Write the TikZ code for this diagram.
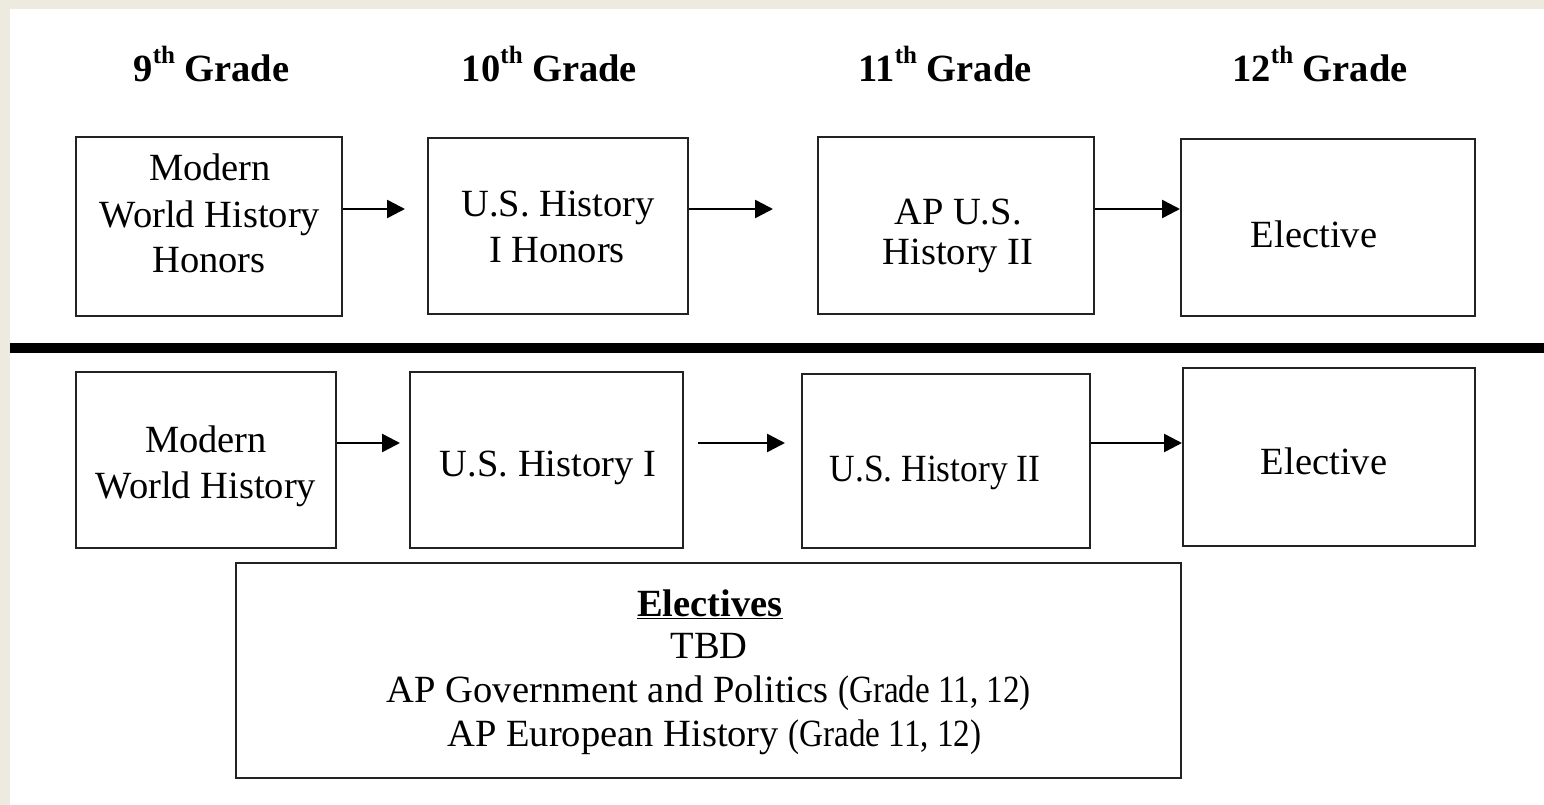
\documentclass[tikz,border=0pt]{standalone}
\usepackage{fontspec}
\setmainfont{Liberation Serif}
\usetikzlibrary{arrows.meta}
\definecolor{pagebeige}{HTML}{EDEAE0}
\definecolor{boxline}{HTML}{222222}
\tikzset{
  course/.style={draw=boxline, line width=2pt, inner sep=0pt},
  txt/.style={inner sep=0pt, anchor=base, font=\fontsize{38.5}{46}\selectfont},
  head/.style={inner sep=0pt, anchor=base, font=\fontsize{38.5}{46}\selectfont\bfseries},
  flow/.style={line width=2.5pt, -{Triangle[length=18pt,width=18pt]}}
}
\newcommand{\narrowtxt}[2]{\scalebox{#1}[1]{#2}}
\newcommand{\ordsup}[1]{\raisebox{18pt}{\fontsize{25}{25}\selectfont #1}}
\begin{document}
\begin{tikzpicture}[x=1pt,y=-1pt]
\useasboundingbox (0,0) rectangle (1544,805);
\fill[pagebeige] (0,0) rectangle (1544,805);
\fill[white] (10,9) rectangle (1544,805);

% headings
\node[head] (h9)  at (211.5,82) {9\ordsup{th} Grade};
\node[head] (h10) at (549.5,82) {10\ordsup{th} Grade};
\node[head] (h11) at (945,82)   {11\ordsup{th} Grade};
\node[head] (h12) at (1320,82)  {12\ordsup{th} Grade};

% upper row boxes
\node[course, minimum width=266pt, minimum height=179pt] (b1) at (209,226.5) {};
\node[course, minimum width=260pt, minimum height=176pt] (b2) at (558,226) {};
\node[course, minimum width=276pt, minimum height=177pt] (b3) at (956,225.5) {};
\node[course, minimum width=294pt, minimum height=177pt] (b4) at (1328,227.5) {};

\node[txt] (t1a) at (210,181) {Modern};
\node[txt] (t1b) at (210,227) {World History};
\node[txt] (t1c) at (209,272) {Honors};
\node[txt] (t2a) at (558,217) {U.S. History};
\node[txt] (t2b) at (557,262) {I Honors};
\node[txt] (t3a) at (958,225) {AP U.S.};
\node[txt] (t3b) at (958,264) {History II};
\node[txt] (t4a) at (1314,247) {Elective};

% separator
\draw[line width=10pt] (10,348) -- (1544,348);

% lower row boxes
\node[course, minimum width=260pt, minimum height=176pt] (b5) at (206,460) {};
\node[course, minimum width=273pt, minimum height=176pt] (b6) at (546.5,460) {};
\node[course, minimum width=288pt, minimum height=174pt] (b7) at (946,461) {};
\node[course, minimum width=292pt, minimum height=178pt] (b8) at (1329,457) {};

\node[txt] (t5a) at (206,452) {Modern};
\node[txt] (t5b) at (206,498) {World History};
\node[txt] (t6a) at (548,476) {U.S. History I};
\node[txt] (t7a) at (935,481) {\narrowtxt{0.92}{U.S. History II}};
\node[txt] (t8a) at (1324,474) {Elective};

% electives box
\node[course, minimum width=945pt, minimum height=215pt] (bE) at (708.5,670.5) {};
\node[head] (e1) at (710,616) {\underline{Electives}};
\node[txt] (e2) at (709,658) {TBD};
\node[txt] (e3) at (709,702) {AP Government and Politics \narrowtxt{0.86}{(Grade 11, 12)}};
\node[txt] (e4) at (714.5,746) {AP European History \narrowtxt{0.86}{(Grade 11, 12)}};

% connectors
\coordinate (ry) at (0,209);
\coordinate (a1e) at (405,209);
\coordinate (a2e) at (773,209);
\coordinate (ly) at (0,443);
\coordinate (a4e) at (400,443);
\coordinate (a5s) at (698,443);
\coordinate (a5e) at (785,443);

\draw[flow] (b1.east |- ry) -- (a1e);
\draw[flow] (b2.east |- ry) -- (a2e);
\draw[flow] (b3.east |- ry) -- (b4.west |- ry);
\draw[flow] (b5.east |- ly) -- (a4e);
\draw[flow] (a5s) -- (a5e);
\draw[flow] (b7.east |- ly) -- (b8.west |- ly);
\end{tikzpicture}
\end{document}
